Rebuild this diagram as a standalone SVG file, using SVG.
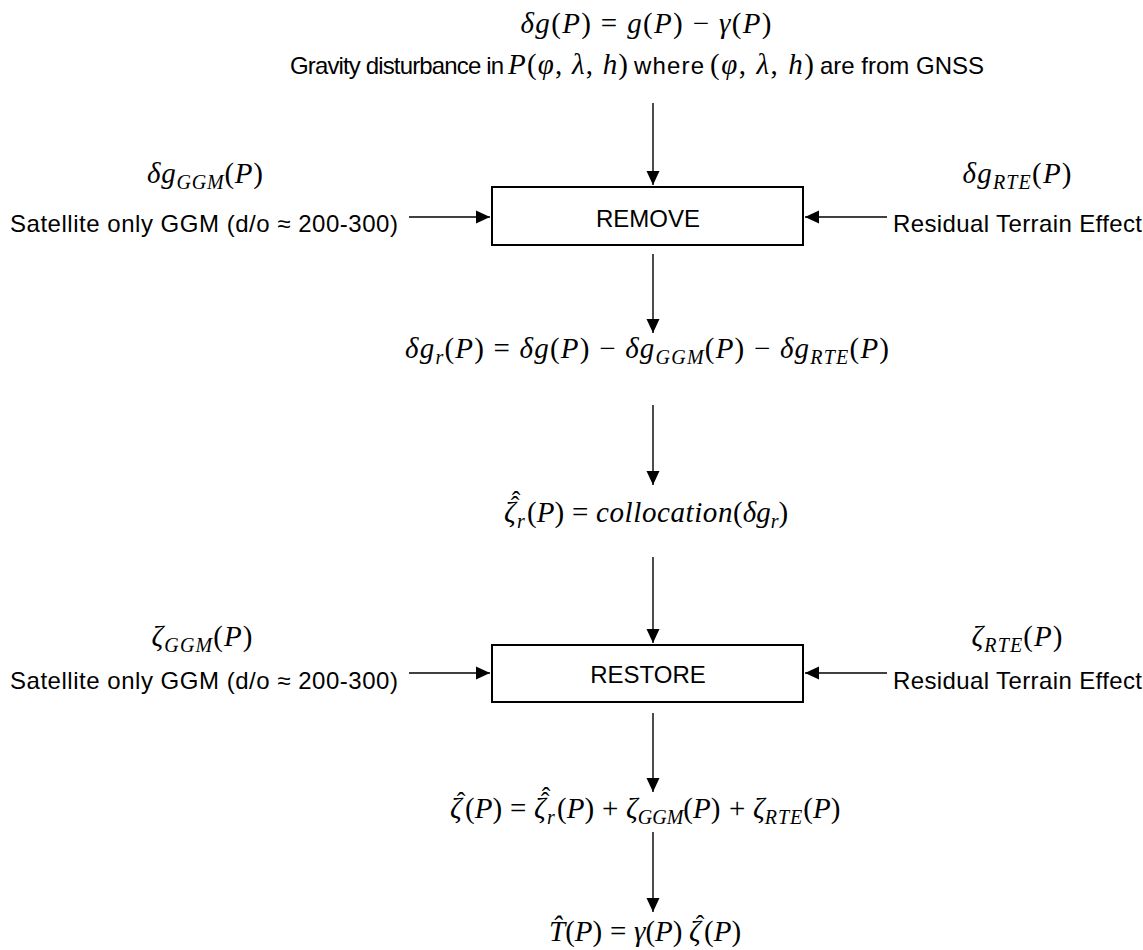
<svg xmlns="http://www.w3.org/2000/svg" width="1143" height="950" viewBox="0 0 1143 950">
<style>
.m{font-family:"Liberation Serif","Times New Roman",serif;font-size:29px;fill:#000}
.i{font-style:italic}
.sb{font-style:italic;font-size:20px}
.hc{font-size:26px;font-style:normal}
.s{font-family:"Liberation Sans",Arial,sans-serif;font-size:24px;fill:#000}
.box{fill:#fff;stroke:#000;stroke-width:2}
.c{stroke:#000;stroke-width:1.4;fill:none;marker-end:url(#ah)}
</style>
<defs>
<marker id="ah" viewBox="0 0 14 14" refX="14" refY="7" markerWidth="14" markerHeight="14" markerUnits="userSpaceOnUse" orient="auto">
<path d="M0,0.5 L14,7 L0,13.5 z" fill="#000"/>
</marker>
</defs>
<rect width="1143" height="950" fill="#fff"/>

<g id="connectors">
<line class="c" x1="653" y1="103" x2="653" y2="185"/>
<line class="c" x1="409" y1="217" x2="490" y2="217"/>
<line class="c" x1="887" y1="217" x2="805" y2="217"/>
<line class="c" x1="653" y1="254" x2="653" y2="333"/>
<line class="c" x1="653" y1="405" x2="653" y2="485"/>
<line class="c" x1="653" y1="557" x2="653" y2="643"/>
<line class="c" x1="409" y1="673" x2="490" y2="673"/>
<line class="c" x1="887" y1="673" x2="805" y2="673"/>
<line class="c" x1="653" y1="713" x2="653" y2="792"/>
<line class="c" x1="653" y1="832" x2="653" y2="912"/>
</g>

<g id="title">
<text class="m" x="646" y="33" text-anchor="middle" textLength="251" lengthAdjust="spacing"><tspan class="i">δg</tspan>(<tspan class="i">P</tspan>) = <tspan class="i">g</tspan>(<tspan class="i">P</tspan>) − <tspan class="i">γ</tspan>(<tspan class="i">P</tspan>)</text>
</g>

<g id="gravity-line">
<text class="s" x="290" y="74" textLength="214" lengthAdjust="spacing">Gravity disturbance in</text>
<text class="m" x="508" y="74" textLength="120" lengthAdjust="spacing"><tspan class="i">P</tspan>(<tspan class="i">φ</tspan>, <tspan class="i">λ</tspan>, <tspan class="i">h</tspan>)</text>
<text class="s" x="634" y="74" textLength="70" lengthAdjust="spacing">where</text>
<text class="m" x="710" y="74" textLength="104" lengthAdjust="spacing">(<tspan class="i">φ</tspan>, <tspan class="i">λ</tspan>, <tspan class="i">h</tspan>)</text>
<text class="s" x="820" y="74">are from GNSS</text>
</g>

<g id="remove">
<rect class="box" x="492" y="187" width="311" height="58"/>
<text class="s" x="648" y="227" text-anchor="middle">REMOVE</text>
</g>

<g id="ggm-remove">
<text class="m" x="205" y="183" text-anchor="middle" textLength="116" lengthAdjust="spacing"><tspan class="i">δg</tspan><tspan class="sb" dy="6">GGM</tspan><tspan dy="-6">(</tspan><tspan class="i">P</tspan>)</text>
<text class="s" x="10" y="232" textLength="388" lengthAdjust="spacing">Satellite only GGM (d/o ≈ 200-300)</text>
</g>

<g id="rte-remove">
<text class="m" x="1017" y="183" text-anchor="middle" textLength="109" lengthAdjust="spacing"><tspan class="i">δg</tspan><tspan class="sb" dy="6">RTE</tspan><tspan dy="-6">(</tspan><tspan class="i">P</tspan>)</text>
<text class="s" x="893" y="232" textLength="249" lengthAdjust="spacing">Residual Terrain Effect</text>
</g>

<g id="residual">
<text class="m" x="647" y="358" text-anchor="middle" textLength="484" lengthAdjust="spacing"><tspan class="i">δg</tspan><tspan class="sb" dy="6">r</tspan><tspan dy="-6">(</tspan><tspan class="i">P</tspan>) = <tspan class="i">δg</tspan>(<tspan class="i">P</tspan>) − <tspan class="i">δg</tspan><tspan class="sb" dy="6">GGM</tspan><tspan dy="-6">(</tspan><tspan class="i">P</tspan>) − <tspan class="i">δg</tspan><tspan class="sb" dy="6">RTE</tspan><tspan dy="-6">(</tspan><tspan class="i">P</tspan>)</text>
</g>

<g id="collocation">
<text class="m" y="522"><tspan x="504" class="i">ζ</tspan><tspan class="hc" x="515" y="514" text-anchor="middle">ˆ</tspan><tspan class="hc" x="516" y="509" text-anchor="middle">ˆ</tspan><tspan class="sb" x="517" y="528">r</tspan><tspan x="527" y="522">(</tspan><tspan class="i">P</tspan>)<tspan x="572">=</tspan><tspan x="596" class="i" style="letter-spacing:0.6px">collocation</tspan>(<tspan class="i">δg</tspan><tspan class="sb" dy="6">r</tspan><tspan dy="-6">)</tspan></text>
</g>

<g id="restore">
<rect class="box" x="492" y="645" width="311" height="57"/>
<text class="s" x="648" y="683" text-anchor="middle">RESTORE</text>
</g>

<g id="ggm-restore">
<text class="m" x="202" y="646" text-anchor="middle" textLength="101" lengthAdjust="spacing"><tspan class="i">ζ</tspan><tspan class="sb" dy="6">GGM</tspan><tspan dy="-6">(</tspan><tspan class="i">P</tspan>)</text>
<text class="s" x="10" y="689" textLength="388" lengthAdjust="spacing">Satellite only GGM (d/o ≈ 200-300)</text>
</g>

<g id="rte-restore">
<text class="m" x="1017" y="646" text-anchor="middle" textLength="91" lengthAdjust="spacing"><tspan class="i">ζ</tspan><tspan class="sb" dy="6">RTE</tspan><tspan dy="-6">(</tspan><tspan class="i">P</tspan>)</text>
<text class="s" x="893" y="689" textLength="249" lengthAdjust="spacing">Residual Terrain Effect</text>
</g>

<g id="height-anomaly">
<text class="m" y="818"><tspan x="450" class="i">ζ</tspan><tspan class="hc" x="461" y="810" text-anchor="middle">ˆ</tspan><tspan x="465" y="818">(</tspan><tspan class="i">P</tspan>)<tspan x="510">=</tspan><tspan x="534" class="i">ζ</tspan><tspan class="hc" x="545" y="810" text-anchor="middle">ˆ</tspan><tspan class="hc" x="546" y="805" text-anchor="middle">ˆ</tspan><tspan class="sb" x="547" y="824">r</tspan><tspan x="557" y="818">(</tspan><tspan class="i">P</tspan>)<tspan x="602">+</tspan><tspan x="626" class="i">ζ</tspan><tspan class="sb" dy="6">GGM</tspan><tspan dy="-6">(</tspan><tspan class="i">P</tspan>)<tspan x="729">+</tspan><tspan x="753" class="i">ζ</tspan><tspan class="sb" dy="6" style="letter-spacing:1px">RTE</tspan><tspan dy="-6">(</tspan><tspan class="i">P</tspan>)</text>
</g>

<g id="potential">
<text class="m" y="941"><tspan x="549" class="i">T̂</tspan>(<tspan class="i">P</tspan>)<tspan x="610">=</tspan><tspan x="634" class="i">γ</tspan>(<tspan class="i">P</tspan>)<tspan x="689" class="i">ζ</tspan><tspan class="hc" x="700" y="933" text-anchor="middle">ˆ</tspan><tspan x="704" y="941">(</tspan><tspan class="i">P</tspan>)</text>
</g>
</svg>
